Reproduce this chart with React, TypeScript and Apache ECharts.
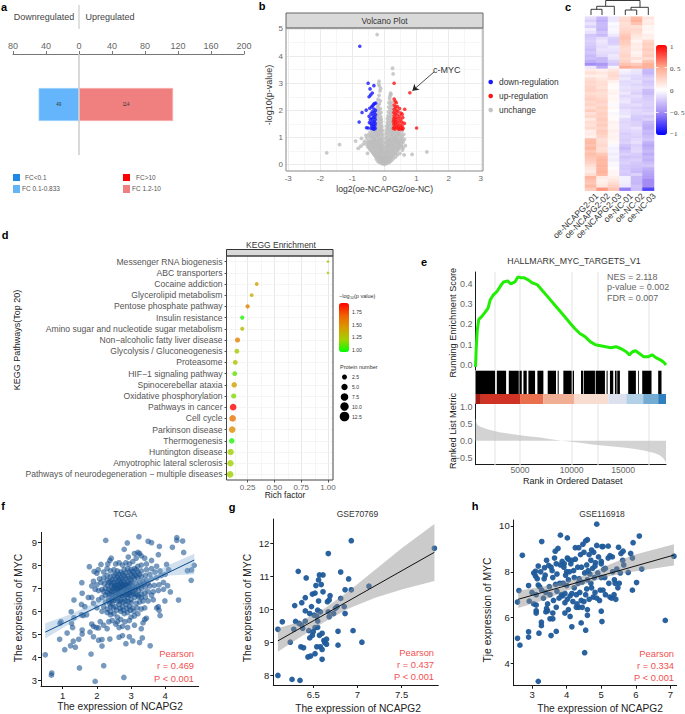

import React, { useEffect, useRef } from "react";
import * as echarts from "echarts";

const FONT = "'Liberation Sans', Arial, sans-serif";

// Panel a
const barCategories = ["DEP"];
const downValues = [-49];
const upValues = [114];

// Panel b
const volcanoBlue = [[-0.77,4.36],[-0.51,3.0],[-0.33,2.91],[-0.45,2.79],[-0.38,2.64],[-0.43,2.57],[-0.48,2.5],[-0.27,2.27],[-0.31,2.25],[-0.34,2.22],[-0.37,2.17],[-0.4,2.13],[-0.46,2.08],[-0.33,2.05],[-0.57,2.01],[-0.28,2.0],[-0.7,1.92],[-0.38,1.95],[-0.32,1.92],[-0.42,1.87],[-0.28,1.85],[-0.36,1.82],[-0.48,1.78],[-0.3,1.76],[-0.34,1.72],[-0.4,1.7],[-0.44,1.66],[-0.29,1.66],[-0.37,1.6],[-0.32,1.58],[-0.79,1.57],[-0.47,1.55],[-0.42,1.52],[-0.29,1.52],[-0.36,1.48],[-0.4,1.44],[-0.3,1.44],[-0.34,1.4],[-0.56,1.36],[-0.51,1.35],[-0.42,1.34],[-0.37,1.33],[-0.29,1.34],[-0.33,1.31]];
const volcanoRed = [[0.30,3.0],[0.79,2.65],[1.0,1.35],[0.30,2.42],[0.33,2.34],[0.37,2.28],[0.3,2.2],[0.4,2.14],[0.34,2.12],[0.47,2.07],[0.63,2.04],[0.3,2.04],[0.37,2.0],[0.42,1.96],[0.51,1.9],[0.29,1.92],[0.34,1.88],[0.55,1.86],[0.4,1.84],[0.3,1.8],[0.47,1.78],[0.57,1.74],[0.35,1.74],[0.29,1.7],[0.42,1.7],[0.51,1.66],[0.33,1.64],[0.38,1.6],[0.28,1.6],[0.46,1.58],[0.55,1.56],[0.62,1.52],[0.33,1.54],[0.41,1.5],[0.29,1.5],[0.49,1.46],[0.36,1.45],[0.55,1.42],[0.3,1.4],[0.44,1.4],[0.38,1.37],[0.51,1.36],[0.58,1.34],[0.28,1.34],[0.33,1.32],[0.43,1.32],[0.47,1.31],[0.55,1.31]];
const volcanoGray = [[-0.23,4.79],[0.25,3.55],[0.27,3.34],[-0.17,3.07],[-0.18,2.97],[-0.16,2.9],[-0.12,2.81],[-0.14,2.72],[0.19,2.63],[0.2,2.58],[0.17,2.52],[0.16,2.42],[-0.17,2.55],[-0.2,2.4],[-0.13,2.35],[0.22,2.3],[0.14,2.28],[-0.16,2.24],[-0.2,2.18],[0.2,2.2],[0.13,2.12],[0.24,2.12],[-0.22,2.1],[-0.13,2.06],[0.18,2.04],[-0.18,2.0],[-0.24,1.96],[0.24,1.98],[0.12,1.94],[-0.11,1.92],[0.19,1.9],[-0.17,1.88],[-0.23,1.82],[0.22,1.84],[0.11,1.8],[-0.12,1.78],[-0.19,1.75],[0.16,1.76],[0.24,1.72],[0.09,1.7],[-0.25,1.7],[-0.1,1.68],[-0.15,1.66],[0.2,1.66],[-0.21,1.6],[0.13,1.62],[0.25,1.58],[0.09,1.56],[-0.09,1.58],[-0.16,1.54],[-0.25,1.52],[0.18,1.54],[0.22,1.48],[0.11,1.48],[-0.11,1.48],[-0.2,1.46],[0.07,1.42],[0.15,1.42],[0.25,1.4],[-0.08,1.4],[-0.14,1.38],[-0.24,1.38],[0.2,1.34],[0.1,1.34],[-0.19,1.32],[-0.1,1.3],[0.07,1.28],[0.14,1.28],[0.25,1.28],[-0.06,1.26],[-0.15,1.25],[-0.24,1.25],[-0.3,1.25],[0.19,1.22],[0.3,1.22],[0.38,1.24],[0.46,1.24],[0.55,1.25],[-0.36,1.22],[-0.45,1.2],[-0.1,1.18],[-0.19,1.18],[0.06,1.18],[0.12,1.16],[0.24,1.16],[0.35,1.16],[0.43,1.16],[0.5,1.14],[0.6,1.12],[-0.05,1.12],[-0.14,1.12],[-0.25,1.14],[-0.32,1.14],[-0.4,1.12],[-0.5,1.1],[-0.58,1.08],[0.07,1.08],[0.17,1.08],[0.28,1.08],[0.38,1.06],[0.47,1.05],[0.55,1.03],[-0.08,1.04],[-0.18,1.04],[-0.28,1.04],[-0.36,1.02],[-0.45,1.0],[-0.55,0.98],[-0.72,0.97],[0.05,1.0],[0.12,0.98],[0.23,0.98],[0.33,0.97],[0.42,0.96],[0.52,0.95],[0.62,0.93],[-0.04,0.96],[-0.12,0.96],[-0.22,0.94],[-0.32,0.92],[-0.41,0.9],[-0.5,0.88],[-0.62,0.86],[-0.9,0.87],[0.07,0.9],[0.17,0.9],[0.28,0.89],[0.38,0.86],[0.48,0.85],[0.58,0.83],[-0.07,0.87],[-0.17,0.86],[-0.27,0.84],[-0.37,0.81],[-0.46,0.78],[-0.56,0.76],[-0.66,0.76],[0.04,0.82],[0.12,0.82],[0.22,0.8],[0.33,0.78],[0.43,0.76],[0.53,0.74],[0.65,0.7],[-0.03,0.8],[-0.12,0.78],[-0.22,0.76],[-0.32,0.73],[-0.42,0.69],[-0.52,0.66],[-0.82,0.6],[-0.74,0.68],[-1.4,0.74],[0.06,0.72],[0.16,0.72],[0.27,0.7],[0.38,0.67],[0.48,0.64],[0.58,0.62],[-0.06,0.7],[-0.16,0.68],[-0.26,0.66],[-0.36,0.62],[-0.46,0.58],[0.03,0.64],[0.11,0.64],[0.21,0.62],[0.32,0.6],[0.42,0.56],[0.56,0.54],[-0.03,0.62],[-0.11,0.6],[-0.2,0.58],[-0.3,0.55],[-0.4,0.5],[-0.53,0.42],[-1.8,0.44],[1.32,0.47],[0.86,0.38],[0.61,0.36],[0.06,0.55],[0.16,0.54],[0.26,0.52],[0.36,0.48],[0.48,0.42],[-0.06,0.53],[-0.15,0.5],[-0.25,0.47],[-0.35,0.42],[0.02,0.47],[0.1,0.46],[0.2,0.44],[0.3,0.4],[0.4,0.36],[-0.02,0.45],[-0.1,0.43],[-0.2,0.4],[-0.3,0.35],[0.05,0.38],[0.14,0.36],[0.24,0.33],[0.34,0.28],[-0.05,0.36],[-0.15,0.33],[-0.25,0.28],[0.02,0.3],[0.09,0.28],[0.18,0.26],[0.27,0.22],[-0.02,0.28],[-0.09,0.26],[-0.18,0.24],[-0.25,0.2],[0.04,0.22],[0.13,0.18],[0.21,0.15],[-0.04,0.2],[-0.13,0.17],[-0.2,0.12],[0,0.14],[0.07,0.12],[0.14,0.09],[-0.07,0.11],[-0.13,0.08],[0.03,0.06],[-0.03,0.05],[0.08,0.05],[-0.08,0.04],[0,0.01],
[0.3,1.3],[-0.28,1.3],[0.22,1.1],[-0.22,1.08],[0.33,1.02],[-0.33,0.98],[0.42,1.1],[-0.42,1.06],[0.18,0.94],[-0.16,0.92],[0.28,0.94],[-0.27,0.9],[0.36,0.91],[-0.36,0.87],[0.45,0.9],[-0.45,0.84],[0.55,0.89],[-0.53,0.82],[0.12,0.87],[-0.12,0.84],[0.2,0.84],[-0.2,0.81],[0.3,0.83],[-0.3,0.78],[0.4,0.81],[-0.4,0.75],[0.5,0.79],[-0.5,0.72],[0.1,0.76],[-0.1,0.73],[0.2,0.75],[-0.2,0.71],[0.3,0.74],[-0.3,0.68],[0.43,0.7],[-0.38,0.65],[0.53,0.68],[-0.48,0.63],[0.12,0.68],[-0.12,0.66],[0.24,0.66],[-0.22,0.63],[0.35,0.64],[-0.33,0.6],[0.45,0.6],[-0.43,0.55],[0.08,0.6],[-0.08,0.58],[0.18,0.58],[-0.17,0.55],[0.29,0.56],[-0.27,0.51],[0.4,0.52],[-0.37,0.47],[0.06,0.5],[-0.05,0.48],[0.15,0.49],[-0.13,0.46],[0.25,0.47],[-0.23,0.43],[0.35,0.43],[-0.32,0.39],[0.08,0.42],[-0.08,0.4],[0.18,0.4],[-0.18,0.37],[0.28,0.36],[-0.28,0.31],[0.07,0.33],[-0.07,0.31],[0.16,0.31],[-0.14,0.29],[0.23,0.28],[-0.22,0.25],[0.05,0.25],[-0.05,0.24],[0.1,0.22],[-0.1,0.21],[0.17,0.21],[-0.16,0.2],[0.02,0.17],[-0.02,0.17],[0.1,0.15],[-0.09,0.15],[0.17,0.12],[-0.16,0.11],[0.04,0.1],[-0.04,0.09]];

// Panel c
const heatColumns = ["oe-NCAPG2-01","oe-NCAPG2-02","oe-NCAPG2-03","oe-NC-01","oe-NC-02","oe-NC-03"];
const heatRows = [
[-.15,-.3,-.1,.2,.4,.15],[-.2,-.35,-.1,.22,.45,.1],[-.12,-.3,-.02,.18,.35,.12],[-.2,-.3,-.05,.2,.18,.05],[-.08,-.32,-.03,.22,.22,.06],[-.12,-.25,-.05,.25,.2,.04],[-.25,-.3,-.1,.32,.15,.1],[-.22,-.15,-.2,.35,.12,.08],[-.2,-.1,-.22,.3,.05,.22],[-.22,-.12,-.2,.28,.12,.28],[-.25,-.15,-.1,.22,.1,.25],[-.28,-.12,-.12,.2,.12,.3],[-.25,-.15,-.15,.22,.05,.25],[-.3,-.18,-.1,.25,.1,.3],[-.28,-.3,-.12,.22,.18,.2],[-.35,-.3,-.2,.25,.1,.35],[-.5,-.45,-.25,.35,.3,.45],[-.1,-.35,-.05,.48,.42,.45],
[.12,.08,.14,-.05,-.1,-.3],[.18,.14,.2,-.08,-.12,-.32],[.1,.1,.22,-.14,-.16,-.25],[.2,.14,.18,-.1,-.18,-.2],[.24,.18,.08,-.16,-.14,-.25],[.22,.2,.03,-.15,-.18,-.22],[.25,.16,.02,-.12,-.14,-.18],[.26,.22,.05,-.14,-.16,-.28],[.2,.18,.08,-.1,-.2,-.3],[.24,.2,.04,-.16,-.14,-.24],[.28,.24,.06,-.12,-.18,-.22],[.22,.26,.03,-.1,-.2,-.2],[.26,.22,-.02,-.16,-.14,-.2],[.2,.28,.04,-.18,-.2,-.22],[.3,.24,.0,-.12,-.16,-.2],[.18,.28,-.03,-.12,-.18,-.16],[.24,.26,.03,-.08,-.22,-.24],[.12,.3,.02,-.16,-.24,-.2],[.2,.26,.08,-.18,-.2,-.3],[.16,.3,.05,-.16,-.2,-.34],[.22,.24,.06,-.16,-.12,-.36],[.1,.3,.1,-.18,-.16,-.3],[.12,.28,.06,-.22,-.18,-.32],[.08,.24,.08,-.2,-.2,-.28],[.38,.18,.06,-.22,-.16,-.25],[.4,.2,.03,-.2,-.14,-.34],[.36,.22,-.03,-.26,-.2,-.38],[.42,.18,-.06,-.3,-.18,-.34],[.32,.2,-.05,-.25,-.16,-.3],[.38,.32,-.08,-.2,-.22,-.36],[.34,.38,-.05,-.26,-.24,-.3],[.3,.42,-.08,-.22,-.2,-.34],[.26,.4,-.03,-.2,-.24,-.28],[.2,.44,-.03,-.24,-.26,-.25],[.14,.42,.02,-.24,-.28,-.34],[.12,.44,.05,-.22,-.3,-.38],[.2,.4,.06,-.24,-.2,-.4],[.42,.12,.1,-.06,-.3,-.42],[.36,.08,.14,-.06,-.3,-.5],[.32,.1,.2,-.08,-.32,-.5],[.4,.14,.26,-.1,-.26,-.5],[.3,.55,.34,-.55,-.28,-.75]];
const heatTicks = ["1", "0. 5", "0", "\u22120. 5", "\u22121"];

// Panel d
const keggPathways = ["Messenger RNA biogenesis","ABC transporters","Cocaine addiction","Glycerolipid metabolism","Pentose phosphate pathway","Insulin resistance","Amino sugar and nucleotide sugar metabolism","Non\u2212alcoholic fatty liver disease","Glycolysis / Gluconeogenesis","Proteasome","HIF\u22121 signaling pathway","Spinocerebellar ataxia","Oxidative phosphorylation","Pathways in cancer","Cell cycle","Parkinson disease","Thermogenesis","Huntington disease","Amyotrophic lateral sclerosis","Pathways of neurodegeneration \u2212 multiple diseases"];
const keggRich = [1,1,0.335,0.288,0.25,0.2,0.2,0.156,0.15,0.135,0.13,0.125,0.12,0.115,0.11,0.106,0.102,0.092,0.09,0.087];
const keggLogP = [1.25,1.25,1.42,1.35,1.55,1.0,1.3,1.55,1.25,1.27,1.1,1.42,1.15,1.93,1.6,1.5,1.0,1.2,1.2,1.2];
const keggCount = [1,1,3,3,4,4,4,7,6,6,6,8,7,13,13,13,8,12,12,13];
const sizeLegend = [2.5,5.0,7.5,10.0,12.5];

// Panel e
const esCurve = [[681,-0.01],[750,0.08],[850,0.17],[1000,0.225],[1300,0.24],[1600,0.26],[1900,0.28],[2100,0.32],[2400,0.345],[2800,0.365],[3100,0.39],[3400,0.41],[3800,0.415],[4100,0.4],[4500,0.41],[4800,0.435],[5100,0.43],[5400,0.43],[5800,0.42],[6200,0.405],[6700,0.395],[7200,0.365],[7800,0.33],[8300,0.3],[8800,0.27],[9300,0.24],[9800,0.21],[10300,0.18],[10800,0.155],[11300,0.14],[11800,0.115],[12300,0.1],[12800,0.095],[13300,0.09],[13800,0.085],[14300,0.09],[14800,0.08],[15300,0.065],[15600,0.05],[15900,0.065],[16200,0.07],[16600,0.055],[17000,0.04],[17400,0.04],[17800,0.05],[18200,0.035],[18600,0.025],[18900,0.015],[19150,0.0]];
const hitRanges = [[681,2584],[2746,3649],[3907,4875],[4939,5165],[5327,5649],[5810,6456],[6682,7262],[7681,8488],[8649,8746],[9198,10004],[10101,10230],[10908,11133],[11198,12262],[12327,13230],[13391,13488],[13714,14037],[14198,14359],[14423,14681],[15488,16230],[16456,16520],[16843,17746],[18392,18715]];
const ribbonStarts = [681,1200,5000,7262,10230,13550,15300,16940,18392];
const ribbonEnds = [1200,5000,7262,10230,13550,15300,16940,18392,19150];
const ribbonColors = ["#a11a14","#cf3326","#e8704f","#f0ae95","#f8dccf","#dde1ee","#b2d1e6","#74abd2","#3080bf"];
const metricCurve = [[681,0.66],[800,0.5],[1000,0.43],[1500,0.37],[2000,0.32],[3000,0.25],[4000,0.2],[5000,0.16],[6000,0.12],[7000,0.09],[8000,0.04],[9000,0.0],[10000,-0.03],[11000,-0.07],[12000,-0.11],[13000,-0.14],[14000,-0.17],[15000,-0.2],[16000,-0.24],[17000,-0.29],[18000,-0.36],[18500,-0.42],[18900,-0.52],[19150,-0.64]];
const esGrid = [2500,5000,10000,12500,17500];

// Panel f
const tcgaPoints = [[0.49,4.12],[0.68,3.33],[0.67,3.24],[1.49,3.55],[1.95,2.97],[2.2,3.65],[2.79,3.14],[1.83,4.15],[3.56,4.51],[2.26,9.07],[3.23,9.23],[2.89,8.96],[2.8,8.68],[3.5,9.03],[3.6,8.97],[3.83,8.81],[4.21,8.77],[4.34,9.19],[4.34,9.07],[4.51,9.04],[4.54,8.55],[4.85,7.99],[4.77,7.79],[4.65,7.76],[4.76,7.34],[4.39,6.49],[3.99,6.45],[4.15,6.84],[4.07,7.11],[4.04,8.03],[0.91,4.79],[1.06,4.34],[1.13,5.06],[0.95,5.55],[0.92,5.48],[1.25,5.98],[1.33,5.72],[1.26,5.48],[1.29,5.3],[1.23,4.51],[1.31,4.71],[1.37,4.45],[1.47,4.79],[1.57,5.02],[1.57,5.19],[1.56,7.24],[1.57,6.78],[1.33,6.49],[1.78,7.93],[1.92,7.72],[2.04,7.8],[2.12,8.03],[1.8,5.1],[1.9,4.9],[2.05,4.75],[2.15,4.78],[2.15,4.5],[2.38,4.8],[2.65,4.88],[2.75,4.95],[2.85,4.6],[2.95,4.9],[3.05,4.72],[3.25,4.65],[3.33,4.85],[3.3,5.25],[3.1,5.4],[2.95,5.6],[3.4,5.65],[3.45,5.7],[3.35,5.5],[3.85,5.82],[3.82,6.05],[3.8,6.2],[3.6,6.7],[1.55,6.3],[1.65,6.2],[1.75,6.6],[1.85,6.6],[1.7,5.85],[1.6,5.82],[1.55,5.85],[1.85,5.45],[1.9,5.35],[1.98,5.3],[2.05,5.28],[2.1,5.55],[2.2,5.4],[2.3,5.25],[2.35,5.55],[2.45,5.6],[2.55,5.45],[2.65,5.3],[2.75,5.35],[2.82,5.55],[2.9,5.3],[2.4,5.85],[2.5,5.9],[2.6,5.75],[2.7,6.0],[2.8,5.9],[2.9,5.95],[3.0,5.75],[3.1,5.8],[3.2,5.9],[3.3,6.1],[3.4,6.15],[2.15,6.0],[2.2,6.2],[2.3,6.1],[2.4,6.2],[2.25,6.4],[2.35,6.45],[2.45,6.35],[2.55,6.2],[2.65,6.3],[2.75,6.2],[2.85,6.3],[2.95,6.2],[3.05,6.15],[3.15,6.35],[3.25,6.4],[3.35,6.45],[3.5,6.45],[3.65,6.5],[3.75,6.15],[2.0,6.15],[1.9,6.35],[2.05,6.5],[2.15,6.6],[2.25,6.7],[2.35,6.75],[2.45,6.6],[2.55,6.55],[2.65,6.65],[2.7,6.5],[2.8,6.55],[2.9,6.6],[3.0,6.5],[3.1,6.6],[3.2,6.7],[3.3,6.75],[3.4,6.8],[3.5,6.85],[3.65,6.85],[3.8,6.9],[3.95,6.95],[1.95,6.95],[2.05,6.9],[2.15,6.95],[2.25,7.0],[2.35,6.95],[2.45,6.85],[2.55,6.8],[2.6,6.95],[2.7,6.85],[2.78,6.78],[2.85,6.9],[2.95,6.8],[3.05,6.85],[3.12,6.95],[3.22,6.9],[3.3,7.0],[3.42,7.05],[3.55,7.1],[3.68,7.12],[3.82,7.15],[3.95,7.25],[1.85,7.1],[2.0,7.15],[2.12,7.25],[2.22,7.2],[2.32,7.12],[2.42,7.1],[2.5,7.02],[2.58,7.12],[2.68,7.05],[2.75,7.15],[2.85,7.1],[2.95,7.05],[3.05,7.1],[3.15,7.2],[3.25,7.25],[3.35,7.3],[3.45,7.35],[3.6,7.4],[3.75,7.45],[3.88,7.55],[4.0,7.6],[1.9,7.3],[2.08,7.4],[2.2,7.45],[2.3,7.35],[2.4,7.3],[2.5,7.25],[2.6,7.3],[2.7,7.25],[2.8,7.3],[2.9,7.25],[3.0,7.35],[3.1,7.4],[3.2,7.45],[3.3,7.5],[3.42,7.55],[3.55,7.6],[3.7,7.7],[3.85,7.75],[4.1,7.8],[2.0,7.65],[2.2,7.7],[2.3,7.55],[2.4,7.5],[2.5,7.55],[2.6,7.5],[2.7,7.45],[2.8,7.55],[2.9,7.5],[3.0,7.6],[3.1,7.6],[3.2,7.7],[3.3,7.75],[3.45,7.8],[3.6,7.85],[3.75,7.95],[2.3,7.85],[2.4,7.75],[2.5,7.8],[2.6,7.75],[2.7,7.7],[2.8,7.8],[2.9,7.85],[3.0,7.8],[3.1,7.85],[3.2,7.95],[3.3,8.0],[3.45,8.05],[3.6,8.2],[3.8,8.45],[2.32,8.05],[2.42,8.3],[2.38,8.2],[2.55,8.05],[2.65,8.1],[2.75,8.0],[2.85,8.1],[2.95,8.05],[3.05,8.15],[3.15,8.3],[3.1,8.5],[3.25,8.5],[3.2,8.55],[3.3,8.4],[3.4,8.3],[2.92,8.35],
[2.4,6.9],[2.48,6.95],[2.55,7.0],[2.62,6.9],[2.68,6.95],[2.72,7.02],[2.78,6.92],[2.82,7.0],[2.88,6.95],[2.92,7.0],[2.98,6.92],[3.02,7.0],[2.45,7.18],[2.52,7.12],[2.6,7.18],[2.66,7.14],[2.72,7.22],[2.78,7.12],[2.84,7.2],[2.9,7.14],[2.96,7.2],[3.02,7.22],[2.42,6.72],[2.5,6.7],[2.56,6.72],[2.62,6.76],[2.68,6.72],[2.74,6.68],[2.82,6.72],[2.88,6.75],[2.94,6.7],[3.0,6.72],[3.08,6.75],[2.35,6.58],[2.42,6.48],[2.5,6.48],[2.6,6.45],[2.68,6.42],[2.76,6.4],[2.84,6.45],[2.92,6.42],[3.0,6.38],[2.3,6.82],[2.2,6.85],[2.35,7.25],[2.45,7.38],[2.55,7.4],[2.65,7.38],[2.75,7.4],[2.85,7.42],[2.95,7.42],[3.05,7.5],[3.15,7.55],[3.25,7.6],[2.55,7.62],[2.65,7.6],[2.75,7.62],[2.85,7.66],[2.95,7.7],[3.05,7.72],[3.15,7.8],[2.38,6.32],[2.48,6.15],[2.58,6.05],[2.68,6.12],[2.78,6.05],[2.88,6.12],[2.98,6.05],[3.08,6.0],[3.18,6.15],[2.3,5.95],[2.4,5.98],[2.6,5.55],[2.7,5.65],[3.12,7.02],[3.2,7.08],[3.28,7.12],[3.38,7.18],[3.5,7.22],[3.14,6.75],[3.22,6.62],[3.3,6.6],[3.42,6.62]];
const tcgaBand = [[0.49,4.83,5.48],[1.2,5.45,5.85],[2,6.15,6.4],[2.7,6.72,6.92],[3.4,7.2,7.5],[4.1,7.55,8.0],[4.85,7.6,8.49]];
const tcgaLine = [[0.49,5.1],[4.85,8.22]];

// Panel g
const gsePoints70769 = [[7.87,11.85],[6.93,12.08],[6.67,11.69],[6.33,11.15],[6.42,10.95],[6.57,11.04],[6.61,11.04],[6.56,10.89],[6.81,11.13],[6.9,10.92],[6.53,10.72],[6.59,10.75],[7.13,10.7],[6.86,10.59],[6.93,10.59],[6.61,10.53],[6.49,10.46],[6.52,10.49],[6.41,10.35],[6.69,10.41],[6.81,10.33],[6.56,10.25],[6.68,10.28],[6.37,10.2],[6.29,10.11],[6.66,10.23],[6.48,10.08],[6.85,10.08],[6.77,10.08],[6.75,10.03],[6.41,9.95],[6.55,9.97],[6.58,9.92],[6.67,9.92],[6.46,9.87],[6.86,9.87],[6.51,9.82],[6.73,9.87],[6.54,9.79],[6.68,9.77],[6.15,9.62],[6.3,9.63],[6.41,9.64],[6.34,9.57],[6.37,9.52],[6.55,9.64],[6.1,9.39],[6.28,9.39],[6.38,9.42],[6.52,9.44],[6.55,9.45],[6.45,9.35],[6.5,9.32],[6.78,9.33],[6.95,9.35],[6.6,9.27],[6.57,9.21],[6.49,9.21],[6.46,9.13],[6.65,9.09],[6.62,9.05],[6.63,8.98],[6.24,9.0],[7.05,9.0],[6.65,8.94],[6.36,8.86],[6.39,8.83],[6.54,8.86],[6.58,8.86],[6.78,8.91],[6.6,8.78],[6.52,8.65],[6.47,8.58],[6.44,8.55],[6.6,8.48],[6.1,7.99],[6.26,7.87],[6.35,7.84]];
const gseBand70769 = [[6.1,8.71,9.42],[6.35,9.15,9.62],[6.63,9.62,10.03],[6.9,10.02,10.55],[7.2,10.35,11.2],[7.5,10.6,11.85],[7.87,10.86,12.59]];
const gseLine70769 = [[6.1,9.04],[7.87,11.73]];

// Panel h
const gsePoints116918 = [[4.87,10.08],[3.82,9.6],[4.02,9.48],[3.28,9.32],[6.1,9.56],[5.92,9.27],[2.72,8.72],[6.85,5.88],[7.1,8.68],[4.52,4.47],[3.18,3.22],[2.58,5.1],[2.65,4.8],[2.9,5.38],[2.9,5.15],[3.2,5.32],[3.55,5.22],[3.7,5.4],[4.15,5.6],[4.55,5.45],[4.42,5.77],[5.02,5.83],[3.27,5.8],[3.27,5.65],[3.52,5.95],[3.6,5.95],[4.1,6.05],[4.6,6.1],[5.0,6.28],[4.35,6.45],[2.58,6.68],[2.62,7.18],[2.92,6.72],[2.9,7.4],[3.0,7.1],[3.05,6.6],[3.12,6.55],[3.12,6.3],[3.12,6.2],[3.12,7.0],[3.18,7.42],[3.1,7.82],[3.1,8.02],[3.15,7.7],[3.18,8.25],[3.25,8.0],[3.28,7.2],[3.33,6.85],[3.35,7.7],[3.36,8.18],[3.38,7.85],[3.42,8.5],[3.4,6.25],[3.42,6.4],[3.45,6.3],[3.45,6.6],[3.5,7.35],[3.52,7.0],[3.55,8.2],[3.58,8.05],[3.6,7.75],[3.6,6.2],[3.62,6.75],[3.65,8.6],[3.67,8.9],[3.68,7.45],[3.7,8.35],[3.7,6.45],[3.72,7.9],[3.75,9.02],[3.8,7.5],[3.82,8.3],[3.85,7.0],[3.87,8.45],[3.88,6.95],[3.9,7.5],[3.92,8.2],[3.93,8.35],[3.95,6.65],[3.95,6.2],[3.97,7.85],[4.0,8.0],[4.0,7.4],[4.02,8.6],[4.02,6.8],[4.05,6.35],[4.05,8.55],[4.08,8.0],[4.1,6.95],[4.12,8.35],[4.15,7.05],[4.15,8.5],[4.18,6.7],[4.2,8.05],[4.22,7.3],[4.25,9.05],[4.25,8.55],[4.28,7.0],[4.3,6.6],[4.32,8.2],[4.33,7.5],[4.35,9.05],[4.36,7.7],[4.38,7.1],[4.4,8.75],[4.42,6.75],[4.43,8.2],[4.45,7.55],[4.47,9.2],[4.5,6.7],[4.5,8.85],[4.52,7.95],[4.55,7.0],[4.55,9.35],[4.58,8.3],[4.6,6.35],[4.6,7.65],[4.6,9.4],[4.62,8.05],[4.65,8.75],[4.65,6.8],[4.67,7.9],[4.7,7.5],[4.7,8.5],[4.72,7.3],[4.75,8.15],[4.77,6.9],[4.78,8.85],[4.8,7.75],[4.82,7.1],[4.83,8.4],[4.87,9.15],[4.87,6.85],[4.9,7.95],[4.92,8.65],[4.95,6.75],[4.97,7.2],[5.0,8.45],[5.0,7.75],[5.02,9.1],[5.05,9.1],[5.05,7.2],[5.07,8.1],[5.1,7.75],[5.12,7.0],[5.2,8.6],[5.2,9.12],[5.22,7.5],[5.25,8.7],[5.25,6.9],[5.3,6.85],[5.33,8.0],[5.37,7.0],[5.38,7.65],[5.4,7.5],[5.45,8.12],[5.5,9.07],[5.52,7.5],[5.55,7.95],[5.57,8.8],[5.65,8.3],[5.63,8.9],[5.78,7.97],[5.85,8.8],[5.9,8.6],[5.9,7.2],[6.02,7.53],[6.17,8.12],[3.05,7.95],[3.22,7.35],[3.4,7.1],[3.48,8.28],[3.72,7.15],[3.78,6.85],[3.95,7.05],[4.05,7.65],[4.22,7.75],[4.28,6.45],[4.45,6.45],[4.58,7.25],[4.72,8.95],[4.82,8.25],[5.0,8.35],[5.12,8.15],[5.32,8.65],[5.42,6.8],[5.48,7.3],[5.62,8.5]];
const gseBand116918 = [[2.6,6.42,7.17],[3.3,6.75,7.35],[4,7.17,7.6],[4.6,7.5,7.88],[5.2,7.8,8.3],[5.9,8.0,8.72],[7.1,8.28,9.2]];
const gseLine116918 = [[2.6,6.8],[7.1,8.73]];

const Pearson: [string, string, string][] = [["Pearson","r = 0.469","P < 0.001"],["Pearson","r = 0.437","P < 0.001"],["Pearson","r = 0.334","P < 0.001"]];

const sizeFor = (n: number) => 1.2 + 1.5 * Math.sqrt(n);

function txt(text: string, x: number, y: number, o: any = {}) {
  return {
    type: "text", x, y, rotation: o.rot || 0, silent: true, z: 50,
    style: {
      text, fill: o.color || "#222", fontSize: o.size || 9, fontFamily: o.family || FONT,
      fontWeight: o.weight || "normal", textAlign: o.align || "center", textVerticalAlign: "middle",
    },
  };
}
const seg = (x1: number, y1: number, x2: number, y2: number, stroke = "#111", lineWidth = 1) => ({
  type: "line", silent: true, z: 40, shape: { x1, y1, x2, y2 }, style: { stroke, lineWidth },
});
const box = (x: number, y: number, width: number, height: number, fill: string, stroke = "none", lineWidth = 0, z = 30) => ({
  type: "rect", silent: true, z, shape: { x, y, width, height }, style: { fill, stroke, lineWidth },
});

export default function App() {
  const ref = useRef<HTMLDivElement>(null);
  useEffect(() => {
    if (!ref.current) return;
    const chart = echarts.init(ref.current, undefined, { renderer: "svg" });
    const grids: any[] = [], xAxes: any[] = [], yAxes: any[] = [], series: any[] = [];
    const panel = (g: any, x: any, y: any) => {
      grids.push({ containLabel: false, ...g });
      const gridIndex = grids.length - 1;
      xAxes.push({ gridIndex, ...x });
      yAxes.push({ gridIndex, ...y });
      return gridIndex;
    };
    const rows = (vals: number[], color: string, axis: "x" | "y", idx: number, w = 1) => ({
      type: "line", xAxisIndex: idx, yAxisIndex: idx, data: [], z: 1, silent: true,
      markLine: {
        z: 1, silent: true, symbol: "none", animation: false, label: { show: false },
        lineStyle: { color, width: w, type: "solid" },
        data: vals.map((v) => (axis === "x" ? { xAxis: v } : { yAxis: v })),
      },
    });
    const bandSeries = (idx: number, band: number[][], fill: string) => ({
      type: "custom", xAxisIndex: idx, yAxisIndex: idx, z: 3, silent: true, data: band,
      encode: { x: 0, y: [1, 2] },
      renderItem: (p: any, api: any) => {
        if (p.dataIndex !== 0) return null;
        const pts = [...band.map((b) => api.coord([b[0], b[2]])), ...[...band].reverse().map((b) => api.coord([b[0], b[1]]))];
        return { type: "polygon", shape: { points: pts }, style: { fill } };
      },
    });
    const rangeSeries = (idx: number, data: any[], yTop: number, yBot: number, colorAt?: (i: number) => string) => ({
      type: "custom", xAxisIndex: idx, yAxisIndex: idx, z: 3, silent: true, data,
      encode: { x: [0, 1] },
      renderItem: (p: any, api: any) => {
        const a = api.coord([api.value(0), yTop]);
        const b = api.coord([api.value(1), yBot]);
        return { type: "rect", shape: { x: a[0], y: a[1], width: Math.max(b[0] - a[0], 0.8), height: b[1] - a[1] }, style: { fill: colorAt ? colorAt(p.dataIndex) : "#000" } };
      },
    });
    const dark = "#1a1a1a";
    const scatterAxis = (min: number, max: number, ticks: number[], fs = 9.5) => ({
      type: "value", min, max, splitLine: { show: false },
      axisLine: { show: true, onZero: false, lineStyle: { color: dark, width: 1 } },
      axisTick: { show: true, length: 3, customValues: ticks, lineStyle: { color: dark } },
      axisLabel: { customValues: ticks, color: "#222", fontSize: fs, fontFamily: FONT, margin: 4 },
    });
    const ggAxis = (min: number, max: number, ticks: number[], fs = 8) => ({
      type: "value", min, max, splitLine: { show: false },
      axisLine: { show: false },
      axisTick: { show: true, length: 2.5, customValues: ticks, lineStyle: { color: "#555" } },
      axisLabel: { customValues: ticks, color: "#666", fontSize: fs, fontFamily: FONT, margin: 3 },
    });

    // a
    const a = panel(
      { left: 13, top: 54, width: 231, height: 101 },
      { type: "value", position: "top", min: -80, max: 200, interval: 40, splitLine: { show: false },
        axisLine: { show: true, onZero: false, lineStyle: { color: "#777" } },
        axisTick: { show: true, length: 3, lineStyle: { color: "#777" } },
        axisLabel: { color: "#666", fontSize: 9, fontFamily: FONT, margin: 4, formatter: (v: number) => String(Math.abs(v)) } },
      { type: "category", data: barCategories, show: false },
    );
    const barLabel = { show: true, position: "inside", color: "#333", fontSize: 4.5, fontFamily: FONT, formatter: (p: any) => String(Math.abs(p.value)) };
    series.push(
      { type: "bar", xAxisIndex: a, yAxisIndex: a, stack: "de", barWidth: 33, data: downValues, itemStyle: { color: "#64b5fb", borderColor: "#a8d5fb", borderWidth: 0.7 }, label: barLabel },
      { type: "bar", xAxisIndex: a, yAxisIndex: a, stack: "de", barWidth: 33, data: upValues, itemStyle: { color: "#f08080", borderColor: "#f8b0b0", borderWidth: 0.7 }, label: barLabel },
    );

    // b
    const b = panel(
      { left: 286, top: 28, width: 197, height: 143 },
      ggAxis(-3.07, 3.07, [-3, -2, -1, 0, 1, 2, 3]),
      ggAxis(-0.23, 5.03, [0, 1, 2, 3, 4, 5]),
    );
    series.push(
      rows([-3, -2, -1, 0, 1, 2, 3], "#ebebeb", "x", b, 1),
      rows([-2.5, -1.5, -0.5, 0.5, 1.5, 2.5], "#f2f2f2", "x", b, 0.7),
      rows([0, 1, 2, 3, 4, 5], "#ebebeb", "y", b, 1),
      rows([0.5, 1.5, 2.5, 3.5, 4.5], "#f2f2f2", "y", b, 0.7),
      { type: "scatter", xAxisIndex: b, yAxisIndex: b, z: 3, symbolSize: 3.8, data: volcanoGray, itemStyle: { color: "#bdbdbd" } },
      { type: "scatter", xAxisIndex: b, yAxisIndex: b, z: 4, symbolSize: 3.6, data: volcanoBlue, itemStyle: { color: "#1a1aff" } },
      { type: "scatter", xAxisIndex: b, yAxisIndex: b, z: 4, symbolSize: 3.6, data: volcanoRed, itemStyle: { color: "#ff1515" },
        markLine: { silent: true, animation: false, symbol: ["none", "arrow"], symbolSize: 6, label: { show: false }, lineStyle: { color: "#222", width: 0.8, type: "solid" },
          data: [[{ coord: [1.55, 3.42] }, { coord: [0.87, 2.72] }]] } },
    );

    // c
    const heatData: number[][] = [];
    heatRows.forEach((r, i) => r.forEach((v, j) => heatData.push([j, i, v])));
    const c = panel(
      { left: 585, top: 16.7, width: 69, height: 174 },
      { type: "category", data: heatColumns, axisLine: { show: false }, axisTick: { show: false }, splitArea: { show: false }, axisLabel: { show: false } },
      { type: "category", inverse: true, data: heatRows.map((_, i) => String(i)), show: false },
    );
    series.push({ type: "heatmap", xAxisIndex: c, yAxisIndex: c, data: heatData, z: 2 });

    // d
    const d = panel(
      { left: 226.5, top: 256, width: 106.5, height: 224 },
      { ...ggAxis(0.053, 1.047, [0.25, 0.5, 0.75, 1.0], 8), axisLabel: { customValues: [0.25, 0.5, 0.75, 1.0], color: "#666", fontSize: 8, fontFamily: FONT, margin: 3, formatter: (v: number) => v.toFixed(2) } },
      { type: "category", inverse: true, data: keggPathways, axisLine: { show: false }, axisTick: { show: true, length: 2, alignWithLabel: true, lineStyle: { color: "#555" } },
        axisLabel: { interval: 0, color: "#555", fontSize: 8.6, fontFamily: FONT, margin: 4 } },
    );
    series.push(
      rows([0.25, 0.5, 0.75, 1.0], "#e8e8e8", "x", d, 1),
      rows([0.125, 0.375, 0.625, 0.875], "#f2f2f2", "x", d, 0.7),
      rows(keggPathways.map((_, i) => i), "#f0f0f0", "y", d, 0.7),
      { type: "scatter", xAxisIndex: d, yAxisIndex: d, z: 4,
        data: keggPathways.map((n, i) => [keggRich[i], i, keggLogP[i], keggCount[i]]),
        encode: { x: 0, y: 1 },
        symbolSize: (v: number[]) => sizeFor(v[3]) },
    );
    const dSeriesIndex = series.length - 1;

    // e
    const eMinX = 681, eMaxX = 19150;
    const ex = (extra: any = {}) => ({ type: "value", min: eMinX, max: eMaxX, show: false, ...extra });
    const e1 = panel({ left: 475.5, top: 272, width: 190.5, height: 98 }, ex(),
      { ...scatterAxis(-0.025, 0.459, [0, 0.1, 0.2, 0.3, 0.4], 9), axisTick: { show: false }, axisLabel: { customValues: [0, 0.1, 0.2, 0.3, 0.4], color: "#666", fontSize: 9, fontFamily: FONT, margin: 3, formatter: (v: number) => v.toFixed(1) } });
    series.push(rows(esGrid, "#ececec", "x", e1, 1.5),
      { type: "line", xAxisIndex: e1, yAxisIndex: e1, z: 4, data: esCurve, showSymbol: false, lineStyle: { color: "#22ee05", width: 3 } });
    const e2 = panel({ left: 475.5, top: 370.7, width: 190.5, height: 23.3 }, ex(), { type: "value", min: 0, max: 1, show: false });
    series.push(rangeSeries(e2, hitRanges, 1, 0));
    const e3 = panel({ left: 475.5, top: 394, width: 190.5, height: 10 }, ex(), { type: "value", min: 0, max: 1, show: false });
    series.push(rangeSeries(e3, ribbonStarts.map((s, i) => [s, ribbonEnds[i]]), 1, 0, (i) => ribbonColors[i]));
    const e4 = panel({ left: 475.5, top: 404, width: 190.5, height: 60.7 },
      { type: "value", min: eMinX, max: eMaxX, splitLine: { show: false }, axisLine: { show: true, onZero: false, lineStyle: { color: dark } },
        axisTick: { show: false }, axisLabel: { customValues: [5000, 10000, 15000], color: "#666", fontSize: 8.6, fontFamily: FONT, margin: 1, formatter: (v: number) => String(v) } },
      { ...scatterAxis(-0.708, 1.08, [-0.5, 0, 0.5, 1.0], 9), axisTick: { show: false }, axisLabel: { customValues: [-0.5, 0, 0.5, 1.0], color: "#666", fontSize: 9, fontFamily: FONT, margin: 3, formatter: (v: number) => (v < 0 ? "\u2212" + Math.abs(v).toFixed(1) : v.toFixed(1)) } });
    series.push(rows(esGrid, "#ececec", "x", e4, 1.5),
      { type: "line", xAxisIndex: e4, yAxisIndex: e4, z: 4, data: metricCurve, showSymbol: false, lineStyle: { width: 0 }, areaStyle: { color: "#c0c0c0", origin: 0 } });

    // f g h
    const corr = (left: number, top: number, width: number, height: number, xr: number[], yr: number[], xt: number[], yt: number[], pts: number[][], bandD: number[][], lineD: number[][], o: any) => {
      const i = panel({ left, top, width, height }, scatterAxis(xr[0], xr[1], xt), scatterAxis(yr[0], yr[1], yt));
      series.push(
        { type: "scatter", xAxisIndex: i, yAxisIndex: i, z: 2, symbolSize: 5.7, data: pts, itemStyle: { color: o.color, opacity: o.opacity } },
        bandSeries(i, bandD, o.band),
        { type: "line", xAxisIndex: i, yAxisIndex: i, z: 4, data: lineD, showSymbol: false, lineStyle: { color: o.line, width: 1 } },
      );
    };
    corr(41, 532.3, 157.7, 153.7, [0.365, 4.98], [2.77, 9.42], [1, 2, 3, 4], [3, 4, 5, 6, 7, 8, 9], tcgaPoints, tcgaBand, tcgaLine, { color: "#144f8f", opacity: 0.58, band: "rgba(120,165,205,0.35)", line: "#0b4a8c" });
    corr(273.3, 519, 165, 166, [6.048, 7.914], [7.7, 12.74], [6.5, 7.0, 7.5], [8, 9, 10, 11, 12], gsePoints70769, gseBand70769, gseLine70769, { color: "#1f5a9a", opacity: 0.95, band: "rgba(140,140,140,0.45)", line: "#111" });
    corr(513.7, 520, 163, 165.7, [2.47, 7.18], [3.03, 10.26], [3, 4, 5, 6, 7], [4, 6, 8, 10], gsePoints116918, gseBand116918, gseLine116918, { color: "#1f5a9a", opacity: 0.95, band: "rgba(140,140,140,0.45)", line: "#111" });

    const colCenters = [590.75, 602.25, 613.75, 625.25, 636.75, 648.25];
    const graphics: any[] = [
      txt("a", 4, 7, { weight: "bold", size: 11, color: "#000" }), txt("b", 262, 6, { weight: "bold", size: 11, color: "#000" }),
      txt("c", 568, 7, { weight: "bold", size: 11, color: "#000" }), txt("d", 5, 235, { weight: "bold", size: 11, color: "#000" }),
      txt("e", 424, 262, { weight: "bold", size: 11, color: "#000" }), txt("f", 3, 506, { weight: "bold", size: 11, color: "#000" }),
      txt("g", 232, 507, { weight: "bold", size: 11, color: "#000" }), txt("h", 475, 506, { weight: "bold", size: 11, color: "#000" }),
      txt("Downregulated", 44, 17.3, { size: 9, color: "#444" }), txt("Upregulated", 110, 17.3, { size: 9, color: "#444" }),
      seg(79, 5, 79, 29, "#ccc", 1.2), seg(79, 54, 79, 155, "#ccc", 1.5),
      box(13, 174, 7, 7, "#1e88e5"), box(13, 185, 7, 8, "#64b5f6"), box(123, 174, 7, 7, "#ff0000"), box(123, 185, 7, 8, "#f08080"),
      txt("FC<0.1", 25, 177, { align: "left", size: 6.5, color: "#555" }), txt("FC 0.1-0.833", 22, 188.5, { align: "left", size: 6.5, color: "#555" }),
      txt("FC>10", 136, 177, { align: "left", size: 6.5, color: "#555" }), txt("FC 1.2-10", 132, 188.5, { align: "left", size: 6.5, color: "#555" }),
      box(286, 13, 197, 15, "#d9d9d9", "#666", 1), txt("Volcano Plot", 384.5, 20.5, { size: 8.3, color: "#333" }),
      box(286, 28, 197, 143, "none", "#888", 1),
      txt("log2(oe-NCAPG2/oe-NC)", 384.7, 189.3, { size: 8.6, color: "#333" }),
      txt("-log10(p-value)", 269, 95, { size: 9, rot: Math.PI / 2, color: "#333" }),
      txt("c-MYC", 446.7, 70, { size: 9, color: "#333" }),
      { type: "circle", silent: true, shape: { cx: 490.7, cy: 82, r: 2.3 }, style: { fill: "#1a1aff" } },
      { type: "circle", silent: true, shape: { cx: 490.7, cy: 96, r: 2.3 }, style: { fill: "#ff1515" } },
      { type: "circle", silent: true, shape: { cx: 490.7, cy: 110, r: 2.3 }, style: { fill: "#c4c4c4" } },
      txt("down-regulation", 499, 82, { align: "left", size: 8.4, color: "#333" }), txt("up-regulation", 499, 96, { align: "left", size: 8.4, color: "#333" }), txt("unchange", 499, 110, { align: "left", size: 8.4, color: "#333" }),
      { type: "polyline", silent: true, shape: { points: [[591, 15], [591, 9.3], [602, 9.3], [602, 15]] }, style: { stroke: "#222", fill: "none", lineWidth: 0.9 } },
      { type: "polyline", silent: true, shape: { points: [[596.7, 9.3], [596.7, 6.3], [614.3, 6.3], [614.3, 15]] }, style: { stroke: "#222", fill: "none", lineWidth: 0.9 } },
      { type: "polyline", silent: true, shape: { points: [[625.3, 15], [625.3, 10], [636.7, 10], [636.7, 15]] }, style: { stroke: "#222", fill: "none", lineWidth: 0.9 } },
      { type: "polyline", silent: true, shape: { points: [[631, 10], [631, 7.3], [648.3, 7.3], [648.3, 15]] }, style: { stroke: "#222", fill: "none", lineWidth: 0.9 } },
      { type: "polyline", silent: true, shape: { points: [[605.7, 6.3], [605.7, 0.5], [640, 0.5], [640, 7.3]] }, style: { stroke: "#222", fill: "none", lineWidth: 0.9 } },
      ...heatColumns.map((s, i) => txt(s, colCenters[i] + 6, 194.5, { align: "right", rot: Math.PI / 4, size: 8.6, color: "#333" })),
      ...heatTicks.map((s, i) => txt(s, 670, [47, 69, 90.5, 113, 134][i], { align: "left", size: 7, family: "'Liberation Serif', serif", color: "#333" })),
      ...[67.5, 90, 112.5].flatMap((y) => [seg(656, y, 658.5, y, "#fff", 0.8), seg(664.5, y, 667, y, "#fff", 0.8)]),
      box(226.5, 249.5, 106.5, 6.5, "#d9d9d9", "#333", 1), txt("KEGG Enrichment", 281, 244.7, { size: 8.5, color: "#333" }),
      box(226.5, 256, 106.5, 224, "none", "#444", 1),
      txt("KEGG Pathways(Top 20)", 17, 340, { size: 9, rot: Math.PI / 2, color: "#222" }),
      txt("Rich factor", 285, 495, { size: 8.5, color: "#222" }),
      txt("\u2212log", 339, 296, { align: "left", size: 5.5, color: "#333" }), txt("10", 350, 298, { align: "left", size: 3.8, color: "#333" }), txt("(p value)", 354, 296, { align: "left", size: 5.5, color: "#333" }),
      ...["1.75", "1.50", "1.25", "1.00"].map((s, i) => txt(s, 352, [311.7, 324.5, 337, 350][i], { align: "left", size: 5, color: "#333" })),
      txt("Protein number", 340, 367, { align: "left", size: 5.5, color: "#333" }),
      ...sizeLegend.map((v, i) => ({ type: "circle", silent: true, shape: { cx: 344.5, cy: [377, 387, 397, 406.5, 416.5][i], r: [2.5, 3.2, 3.8, 4.2, 4.8][i] }, style: { fill: "#000" } })),
      ...sizeLegend.map((v, i) => txt(v.toFixed(1), 352, [377, 387, 397, 406.5, 416.5][i], { align: "left", size: 5, color: "#333" })),
      txt("HALLMARK_MYC_TARGETS_V1", 574, 260.7, { size: 8.8, color: "#333" }),
      txt("NES = 2.118", 607, 277, { align: "left", size: 9, color: "#666" }), txt("p-value = 0.002", 607, 287, { align: "left", size: 9, color: "#666" }), txt("FDR = 0.007", 607, 297.5, { align: "left", size: 9, color: "#666" }),
      txt("Running Enrichment Score", 452.7, 322.7, { size: 9.2, rot: Math.PI / 2, color: "#222" }),
      txt("Ranked List Metric", 452.7, 431, { size: 9.2, rot: Math.PI / 2, color: "#222" }),
      txt("Rank in Ordered Dataset", 572.7, 480.5, { size: 9, color: "#222" }),
      txt("TCGA", 125, 514, { size: 8.5, color: "#333" }), txt("GSE70769", 357.5, 514, { size: 8.5, color: "#333" }), txt("GSE116918", 602, 514, { size: 8.5, color: "#333" }),
      txt("The expression of NCAPG2", 120, 706, { size: 10.2, color: "#222" }), txt("The expression of NCAPG2", 358, 708, { size: 10.2, color: "#222" }), txt("The expression of NCAPG2", 600, 708.5, { size: 10.2, color: "#222" }),
      txt("The expression of MYC", 18, 608, { size: 10.4, rot: Math.PI / 2, color: "#222" }), txt("The expression of MYC", 247, 608, { size: 10.4, rot: Math.PI / 2, color: "#222" }), txt("Tje expression of MYC", 487, 610, { size: 10.4, rot: Math.PI / 2, color: "#222" }),
      ...Pearson[0].map((s, i) => txt(s, 194, [654, 666, 678.6][i], { align: "right", size: 9.3, color: "#f05050" })),
      ...Pearson[1].map((s, i) => txt(s, 434, [652.7, 665, 677][i], { align: "right", size: 9.3, color: "#f05050" })),
      ...Pearson[2].map((s, i) => txt(s, 674, [653.5, 666, 678][i], { align: "right", size: 9.3, color: "#f05050" })),
    ];

    chart.setOption({
      animation: false,
      textStyle: { fontFamily: FONT },
      grid: grids, xAxis: xAxes, yAxis: yAxes, series,
      visualMap: [
        { type: "continuous", seriesIndex: series.findIndex((s) => s.type === "heatmap"), dimension: 2, min: -1, max: 1, calculable: false, show: true,
          left: 656, top: 45, itemWidth: 11, itemHeight: 90, padding: 0, text: ["", ""], textGap: 0,
          inRange: { color: ["#0000ff", "#a48cf5", "#ffffff", "#ffa98f", "#ff0000"] } },
        { type: "continuous", seriesIndex: dSeriesIndex, dimension: 2, min: 0.96, max: 1.93, calculable: false, show: true,
          left: 339, top: 303, itemWidth: 10, itemHeight: 49, padding: 0, text: ["", ""], textGap: 0,
          inRange: { color: ["#00ff00", "#a2d000", "#d89a00", "#f06000", "#ff0000"] } },
      ],
      graphic: { elements: graphics },
    });
    return () => chart.dispose();
  }, []);
  return <div ref={ref} style={{ position: "absolute", left: 0, top: 0, width: 685, height: 714 }} />;
}
